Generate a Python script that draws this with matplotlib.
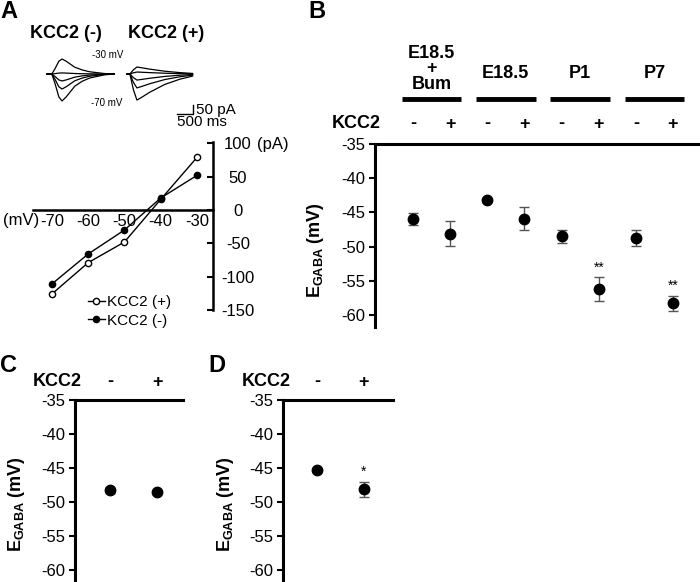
import matplotlib
matplotlib.use('Agg')
import matplotlib.pyplot as plt
import matplotlib.transforms as mtransforms
import numpy as np

plt.rcParams['font.family'] = ['Liberation Sans', 'DejaVu Sans']
plt.rcParams['axes.unicode_minus'] = False
plt.rcParams['mathtext.fontset'] = 'custom'
plt.rcParams['mathtext.rm'] = 'Liberation Sans'
plt.rcParams['mathtext.bf'] = 'Liberation Sans:bold'

W, H = 700, 582

# ---- Panel A: example current traces (ms from trace start, fraction of peak) ----
trace_t_neg = [0, 150, 250, 370, 470, 600, 870, 1100, 1330, 1800, 2100]
trace_shape_neg = [0, 0, 0.35, 0.85, 1.0, 0.85, 0.45, 0.27, 0.15, 0.03, 0]
trace_t_pos = [0, 90, 200, 310, 450, 710, 1180, 1650, 2050]
trace_shape_pos = [0, 0, 0.6, 1.0, 0.9, 0.7, 0.4, 0.2, 0.08]
step_mv = [-30, -40, -50, -60, -70]
peak_neg = [84, 6, -39, -84, -151]   # pA, KCC2 (-)
peak_pos = [39, 11, -34, -78, -146]  # pA, KCC2 (+)

# ---- Panel A: I-V relation ----
iv_mv = [-70, -60, -50, -40, -30]
iv_pos = [-126, -79, -48, 16, 79]
iv_neg = [-111, -66, -30, 18, 52]

# ---- Panel B ----
b_groups = ['E18.5\n+\nBum', 'E18.5', 'P1', 'P7']
b_kcc2 = ['-', '+', '-', '+', '-', '+', '-', '+']
b_mean = [-46.0, -48.1, -43.2, -45.9, -48.5, -56.2, -48.7, -58.3]
b_err = [0.9, 1.8, 0.3, 1.7, 0.9, 1.75, 1.2, 1.1]
b_sig = ['', '', '', '', '', '**', '', '**']

# ---- Panels C and D ----
cd_kcc2 = ['-', '+']
c_mean = [-48.3, -48.5]
c_err = [0.3, 0.3]
c_sig = ['', '']
d_mean = [-45.3, -48.1]
d_err = [0.3, 1.1]
d_sig = ['', '*']

egaba_ticks = [-35, -40, -45, -50, -55, -60]
iv_yticks = [100, 50, 0, -50, -100, -150]

fig = plt.figure(figsize=(W / 100, H / 100), dpi=100)


def px_axes(left, top, right, bottom):
    return fig.add_axes([left / W, 1 - bottom / H, (right - left) / W, (bottom - top) / H])


def fig_text(x, y, s, **kw):
    fig.text(x / W, 1 - y / H, s, **kw)


def egaba_panel(box, xlim, means, errs, signs, sig, sign_y, kcc2_x, label_x, label_y):
    ax = px_axes(*box)
    x = np.arange(1, len(means) + 1)
    ax.errorbar(x, means, yerr=errs, fmt='none', ecolor='#555555', elinewidth=1,
                capsize=3.5, capthick=1, zorder=2)
    ax.plot(x, means, 'o', color='black', ms=7.5, zorder=3)
    ax.set_xlim(*xlim)
    ax.set_ylim(-61.75, -35)
    ax.set_yticks(egaba_ticks)
    ax.set_xticks([])
    for s in ['bottom', 'right']:
        ax.spines[s].set_visible(False)
    for s in ['left', 'top']:
        ax.spines[s].set_linewidth(2.2)
    ax.tick_params(axis='y', direction='out', length=4, width=1.5, labelsize=12, pad=3)
    trans = mtransforms.blended_transform_factory(ax.transData, fig.transFigure)
    for xi, s in zip(x, signs):
        ax.text(xi, 1 - sign_y / H, s, transform=trans, ha='center', va='center',
                fontsize=13, fontweight='bold')
    for xi, m, e, s in zip(x, means, errs, sig):
        if s:
            ax.annotate(s, (xi, m + e), xytext=(0, 7), textcoords='offset points',
                        ha='center', va='center', fontsize=10)
    fig_text(kcc2_x, sign_y, 'KCC2', ha='left', va='center', fontsize=13, fontweight='bold')
    fig_text(label_x, label_y, r'$\mathbf{E_{GABA}}$ (mV)', rotation=90, ha='center',
             va='center', fontsize=13, fontweight='bold')
    return ax, trans


# ---------------- Panel A ----------------
fig_text(0, 12, 'A', ha='left', va='center', fontsize=17, fontweight='bold')
fig_text(66, 33, 'KCC2 (-)', ha='center', va='center', fontsize=13, fontweight='bold')
fig_text(166, 33, 'KCC2 (+)', ha='center', va='center', fontsize=13, fontweight='bold')

ax_tr = px_axes(40, 45, 210, 125)
ms_per_px = 31.25
pa_per_px = 5.6
ax_tr.set_xlim(-7 * ms_per_px, 163 * ms_per_px)
ax_tr.set_ylim(-51 * pa_per_px, 29 * pa_per_px)
ax_tr.axis('off')
pos_offset = 80 * ms_per_px
for a in peak_neg:
    ax_tr.plot(trace_t_neg, np.array(trace_shape_neg) * a, color='black', lw=0.9)
for a in peak_pos:
    ax_tr.plot(np.array(trace_t_pos) + pos_offset, np.array(trace_shape_pos) * a,
               color='black', lw=0.9)
# scale bar: 500 ms, 50 pA
sb_t0 = 130 * ms_per_px
sb_y0 = -40 * pa_per_px
ax_tr.plot([sb_t0, sb_t0 + 500, sb_t0 + 500], [sb_y0, sb_y0, sb_y0 + 50], color='black', lw=1)
ax_tr.text(sb_t0 + 500 + 3 * ms_per_px, sb_y0 + 25, '50 pA', ha='left', va='center', fontsize=11)
ax_tr.text(sb_t0, sb_y0 - 1.5 * pa_per_px, '500 ms', ha='left', va='top', fontsize=11)
fig_text(108, 55, '-30 mV', ha='center', va='center', fontsize=7)
fig_text(107, 103, '-70 mV', ha='center', va='center', fontsize=7)

# I-V plot
ax_iv = px_axes(33, 142, 213, 310)
ax_iv.plot(iv_mv, iv_pos, '-o', color='black', lw=1, ms=4.5, mfc='white', mec='black',
           mew=1, label='KCC2 (+)')
ax_iv.plot(iv_mv, iv_neg, '-o', color='black', lw=1, ms=4.5, mfc='black', mec='black',
           label='KCC2 (-)')
ax_iv.set_xlim(-75.2, -25.6)
ax_iv.set_ylim(-150, 102)
ax_iv.spines['left'].set_visible(False)
ax_iv.spines['top'].set_visible(False)
ax_iv.spines['bottom'].set_position(('data', 0))
ax_iv.spines['bottom'].set_linewidth(1.8)
ax_iv.spines['right'].set_linewidth(1.8)
ax_iv.set_xticks(iv_mv)
ax_iv.set_xticklabels([str(v) for v in iv_mv])
ax_iv.tick_params(axis='x', length=0, labelsize=12, pad=3)
ax_iv.yaxis.tick_right()
ax_iv.set_yticks(iv_yticks)
ax_iv.set_yticklabels([str(v) for v in iv_yticks])
ax_iv.tick_params(axis='y', direction='in', length=4, width=1.5, labelsize=12, pad=18)
for lab in ax_iv.get_yticklabels():
    lab.set_horizontalalignment('center')
fig_text(21, 220, '(mV)', ha='center', va='center', fontsize=12)
fig_text(257, 145, '(pA)', ha='left', va='center', fontsize=12)
ax_iv.legend(loc='upper left', bbox_to_anchor=(88 / W, 1 - 295 / H), bbox_transform=fig.transFigure,
             frameon=False, fontsize=11, handlelength=1.1, handletextpad=0.15,
             labelspacing=0.3, borderpad=0, borderaxespad=0)

# ---------------- Panel B ----------------
fig_text(308, 12, 'B', ha='left', va='center', fontsize=17, fontweight='bold')
ax_b, trans_b = egaba_panel((375, 144, 700, 327), (-0.023, 8.727), b_mean, b_err, b_kcc2,
                            b_sig, 124, 332, 316, 250)
xb = np.arange(1, len(b_mean) + 1)
for i, g in enumerate(b_groups):
    center = xb[2 * i:2 * i + 2].mean()
    ax_b.plot([center - 0.8, center + 0.8], [1 - 99 / H] * 2, transform=trans_b,
              color='black', lw=3.5, solid_capstyle='butt', clip_on=False)
    gy = 69 if '\n' in g else 73
    ax_b.text(center, 1 - gy / H, g, transform=trans_b, ha='center', va='center',
              fontsize=13, fontweight='bold', linespacing=0.85)

# ---------------- Panel C ----------------
fig_text(0, 366, 'C', ha='left', va='center', fontsize=17, fontweight='bold')
egaba_panel((75, 400, 183, 582), (0.255, 2.553), c_mean, c_err, cd_kcc2, c_sig,
            382, 33, 17, 504)

# ---------------- Panel D ----------------
fig_text(208, 366, 'D', ha='left', va='center', fontsize=17, fontweight='bold')
egaba_panel((283, 400, 393, 582), (0.277, 2.617), d_mean, d_err, cd_kcc2, d_sig,
            382, 242, 225, 504)

fig.savefig('out.png', dpi=100)
